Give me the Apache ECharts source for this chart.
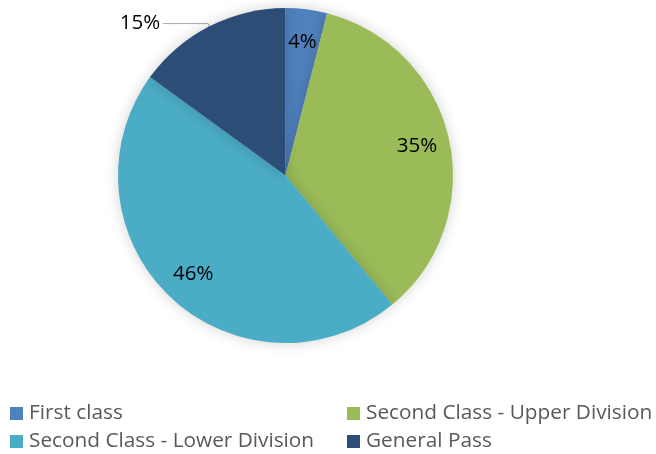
<!DOCTYPE html>
<html>
<head>
<meta charset="utf-8">
<script src="https://cdn.jsdelivr.net/npm/echarts@6/dist/echarts.min.js"></script>
<style>
  html, body { margin: 0; padding: 0; background: #fff; }
  #chart { width: 656px; height: 454px; }
</style>
</head>
<body>
<div id="chart"></div>
<script>
const categories = ['First class', 'Second Class - Upper Division', 'Second Class - Lower Division', 'General Pass']
const shares = [4, 35, 46, 15]
const colorList = ['#4F81BD', '#9BBB59', '#4BACC6', '#2C4D75']

const chart = echarts.init(document.getElementById('chart'))

const pieData = categories.map((name, i) => ({
  name: name,
  value: shares[i],
  itemStyle: { color: colorList[i] },
}))

// legend: two columns, two rows
const legendPos = [
  { left: 10, top: 403 },
  { left: 347, top: 403 },
  { left: 10, top: 431 },
  { left: 347, top: 431 },
]
const legends = categories.map((name, i) => ({
  data: [name],
  left: legendPos[i].left,
  top: legendPos[i].top,
  padding: 0,
  orient: 'horizontal',
  selectedMode: false,
  icon: 'rect',
  itemWidth: 13,
  itemHeight: 13,
  itemGap: 4,
  textStyle: {
    color: '#595959',
    fontSize: 20.8,
    fontFamily: 'Open Sans',
    padding: [0, 0, 0, 1],
  },
}))

const option = {
  backgroundColor: '#fff',
  animation: false,
  legend: legends,
  series: [
    {
      type: 'pie',
      center: [285.5, 175.5],
      radius: 167.5,
      startAngle: 90,
      clockwise: true,
      itemStyle: {
        shadowBlur: 14,
        shadowColor: 'rgba(0,0,0,0.18)',
      },
      label: { show: false },
      labelLine: { show: false },
      data: pieData.map((d, i) =>
        i === 3
          ? Object.assign({}, d, {
              label: {
                show: true,
                position: 'outside',
                formatter: '{d}%',
                color: '#000',
                fontSize: 20.5,
                fontFamily: 'Open Sans',
                distanceToLabelLine: 3,
              },
              labelLine: {
                show: true,
                length: 3,
                length2: 45,
                smooth: false,
                lineStyle: { color: '#a6a6a6', width: 1 },
              },
            })
          : d
      ),
    },
    {
      // transparent ring only for placing the inner labels
      type: 'pie',
      center: [285.5, 175.5],
      radius: [96, 167.5],
      startAngle: 90,
      clockwise: true,
      silent: true,
      itemStyle: { color: 'transparent' },
      label: {
        show: true,
        position: 'inside',
        formatter: '{d}%',
        color: '#000',
        fontSize: 20.5,
        fontFamily: 'Open Sans',
      },
      labelLine: { show: false },
      data: categories.map((name, i) => ({
        name: name + ' ',
        value: shares[i],
        label: { show: i !== 3 },
      })),
    },
  ],
}

chart.setOption(option)
window.addEventListener('resize', () => {
  chart.resize()
})
</script>
</body>
</html>
